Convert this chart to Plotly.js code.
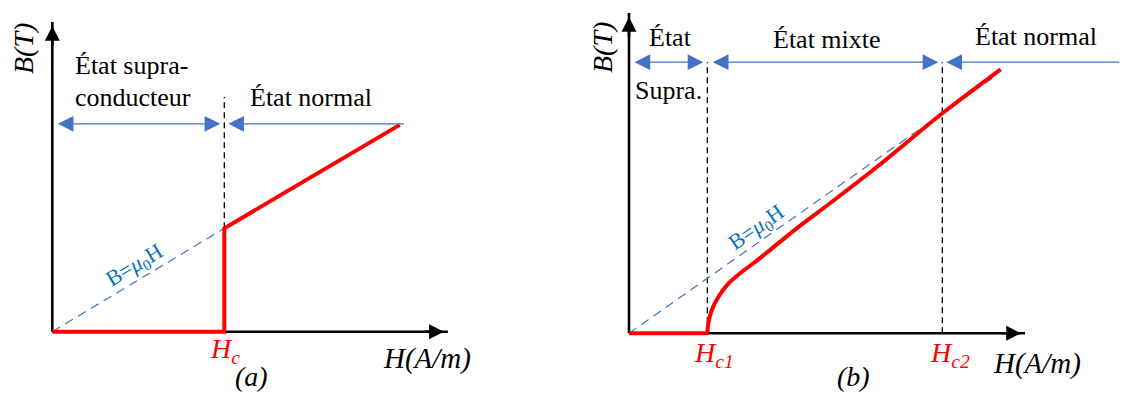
<!DOCTYPE html>
<html>
<head>
<meta charset="utf-8">
<script src="https://cdn.plot.ly/plotly-3.0.1.min.js"></script>
<style>html,body{margin:0;padding:0;background:#fff;}#chart{width:1125px;height:394px;}</style>
</head>
<body>
<div id="chart"></div>
<script>
// ---------------- data (panel a) ----------------
const aHc = 1;                       // critical field Hc
const aRedH = [0, 1, 1, 2.02];       // B(H) of type-I superconductor
const aRedB = [0, 0, 1, 2.0];
const aMuH = [0, 1];                 // B = mu0 H reference line
const aMuB = [0, 1];
const aAxisTipH = 2.30;
const aAxisTipB = 2.995;
const aRowB = 2.01;                  // level of the state arrows
const aRowEndH = 2.076;
const aDashTopB = 2.27;

// ---------------- data (panel b) ----------------
const bHc1 = 1, bHc2 = 4;
const bRedFlatH = [0, 1];
const bRedFlatB = [0, 0];
const bRedCurveH = [1, 1.012, 1.056, 1.14, 1.268, 1.439, 1.609, 1.822, 2.141, 2.566, 3.204, 4.0, 4.745];
const bRedCurveB = [0, 0.176, 0.418, 0.66, 0.904, 1.115, 1.296, 1.54, 1.909, 2.364, 3.069, 4.0, 4.8];
const bMuH = [0, 4.65];
const bMuB = [0, 4.65];
const bAxisTipH = 5.056;
const bAxisTipB = 5.824;
const bRowB = 4.93;
const bRowEndH = 6.33;

// ---------------- layout helpers ----------------
const W = 1125, HT = 394;
const mapA = {ox: 52.3, oy: 331.7, kx: 172, ky: 103.4};
const mapB = {ox: 629, oy: 333.3, kx: 78.33, ky: 55};
function xDom(m, r) { return [(m.ox + r[0]*m.kx)/W, (m.ox + r[1]*m.kx)/W]; }
function yDom(m, r) { return [1 - (m.oy - r[0]*m.ky)/HT, 1 - (m.oy - r[1]*m.ky)/HT]; }
const aXR = [-0.25, 2.5], aYR = [-0.5, 3.1];
const bXR = [-0.5, 6.3], bYR = [-0.9, 5.9];

const RED = '#FF0000', BLUE = '#4472C4', BLUETXT = '#0070C0';
const FONT = 'Liberation Serif';

function line(x, y, xa, ya, color, width, dash, shape) {
  return {x: x, y: y, xaxis: xa, yaxis: ya, type: 'scatter', mode: 'lines',
    line: {color: color, width: width, dash: dash || 'solid', shape: shape || 'linear', smoothing: 0.8},
    hoverinfo: 'skip', showlegend: false, cliponaxis: false};
}

const traces = [
  // panel a
  line([aHc, aHc], [1, aDashTopB], 'x', 'y', '#000', 1.3, '6px,4px'),
  line(aMuH, aMuB, 'x', 'y', BLUE, 1.2, '9px,6px'),
  line([0, aAxisTipH], [0, 0], 'x', 'y', '#000', 2.6),
  line([0, 0], [0, aAxisTipB], 'x', 'y', '#000', 2.6),
  line(aRedH, aRedB, 'x', 'y', RED, 4),
  // panel b
  line([bHc1, bHc1], [0, bRowB], 'x2', 'y2', '#000', 1.3, '6px,4px'),
  line([bHc2, bHc2], [0, bRowB], 'x2', 'y2', '#000', 1.3, '6px,4px'),
  line(bMuH, bMuB, 'x2', 'y2', BLUE, 1.2, '9px,6px'),
  line([0, bAxisTipH], [0, 0], 'x2', 'y2', '#000', 2.6),
  line([0, 0], [0, bAxisTipB], 'x2', 'y2', '#000', 2.6),
  line(bRedFlatH, bRedFlatB, 'x2', 'y2', RED, 4),
  line(bRedCurveH, bRedCurveB, 'x2', 'y2', RED, 4, 'solid', 'spline')
];

function axisArrow(x, y, xr, yr, dx, dy) {
  return {x: x, y: y, xref: xr, yref: yr, ax: dx, ay: dy, text: '', showarrow: true,
    arrowhead: 2, arrowsize: 1.15, arrowwidth: 2.6, arrowcolor: '#000', standoff: 3.9};
}
function stateArrow(x, y, tailX, xr, yr, both) {
  const s = 2.4, w = 1.3, so = 1.3 * s * w;
  return {x: x, y: y, ax: tailX, ay: y, xref: xr, yref: yr, axref: xr, ayref: yr,
    text: '', showarrow: true, arrowside: both ? 'end+start' : 'end',
    arrowhead: 2, startarrowhead: 2, arrowsize: s, startarrowsize: s,
    arrowwidth: w, arrowcolor: BLUE, standoff: so, startstandoff: so};
}
function txt(text, x, y, opts) {
  opts = opts || {};
  return {text: text, x: x / W, y: 1 - y / HT, xref: 'paper', yref: 'paper',
    xanchor: opts.xa || 'left', yanchor: 'middle', showarrow: false,
    textangle: opts.angle || 0, align: 'left',
    font: {family: FONT, size: opts.size || 26, color: opts.color || '#000'}};
}

const annotations = [
  axisArrow(aAxisTipH, 0, 'x', 'y', -25, 0),
  axisArrow(0, aAxisTipB, 'x', 'y', 0, 25),
  axisArrow(bAxisTipH, 0, 'x2', 'y2', -25, 0),
  axisArrow(0, bAxisTipB, 'x2', 'y2', 0, 25),
  stateArrow(aHc, aRowB, 0, 'x', 'y', true),
  stateArrow(aHc, aRowB, aRowEndH, 'x', 'y', false),
  stateArrow(bHc1, bRowB, 0, 'x2', 'y2', true),
  stateArrow(bHc2, bRowB, bHc1, 'x2', 'y2', true),
  stateArrow(bHc2, bRowB, bRowEndH, 'x2', 'y2', false),
  // panel a texts
  txt('<i>B(T)</i>', 24, 49, {xa: 'center', angle: -90, size: 28}),
  txt('État supra-', 73, 65),
  txt('conducteur', 73, 97),
  txt('État normal', 248, 97),
  txt('B=<i>μ</i><sub>0</sub>H', 135, 266, {xa: 'center', angle: -31, size: 22, color: BLUETXT}),
  txt('<i>H<sub>c</sub></i>', 208, 350, {size: 28, color: RED}),
  txt('<i>(a)</i>', 251, 376, {xa: 'center', size: 28}),
  txt('<i>H(A/m)</i>', 381, 358, {size: 29}),
  // panel b texts
  txt('<i>B(T)</i>', 602, 48, {xa: 'center', angle: -90, size: 28}),
  txt('État', 647, 38),
  txt('Supra.', 633, 91),
  txt('État mixte', 771, 39),
  txt('État normal', 973, 36),
  txt('B=<i>μ</i><sub>0</sub>H', 757, 228, {xa: 'center', angle: -35, size: 22, color: BLUETXT}),
  txt('<i>H<sub>c1</sub></i>', 692, 354, {size: 28, color: RED}),
  txt('<i>H<sub>c2</sub></i>', 928, 354, {size: 28, color: RED}),
  txt('<i>H(A/m)</i>', 991, 363, {size: 29}),
  txt('<i>(b)</i>', 853, 376, {xa: 'center', size: 28})
];

function hid(dom, range, anchor) {
  return {domain: dom, range: range, anchor: anchor, visible: false, showgrid: false,
    zeroline: false, showline: false, showticklabels: false, fixedrange: true};
}

const layout = {
  width: W, height: HT,
  margin: {l: 0, r: 0, t: 0, b: 0, pad: 0},
  paper_bgcolor: '#fff', plot_bgcolor: 'rgba(0,0,0,0)',
  showlegend: false,
  font: {family: FONT},
  xaxis: hid(xDom(mapA, aXR), aXR, 'y'),
  yaxis: hid(yDom(mapA, aYR), aYR, 'x'),
  xaxis2: hid(xDom(mapB, bXR), bXR, 'y2'),
  yaxis2: hid(yDom(mapB, bYR), bYR, 'x2'),
  annotations: annotations
};

Plotly.newPlot('chart', traces, layout, {displayModeBar: false, staticPlot: true});
</script>
</body>
</html>
